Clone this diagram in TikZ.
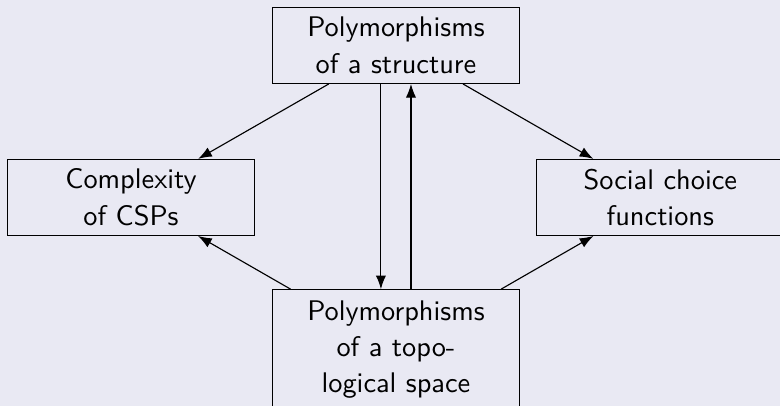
\documentclass[tikz,border=0pt]{standalone}
\usepackage{tikz}
\usetikzlibrary{arrows.meta,positioning}
\definecolor{bgcolor}{RGB}{233,233,243}

\begin{document}
\begin{tikzpicture}[node distance=2.5cm,>=Latex,
  box/.style={draw,align=center,font=\sffamily\fontsize{10}{12.8}\selectfont,minimum width=87pt,minimum height=26.8pt}]
\fill[bgcolor] (-139.6pt,16pt) rectangle (135.4pt,-127.1pt);
\useasboundingbox (-139.6pt,16pt) rectangle (135.4pt,-127.1pt);
\node[box] (top) {Polymorphisms\\of a structure};
\node[box,on grid,below left=53.6pt and 93.4pt of top] (csp) {Complexity\\of CSPs};
\node[box,on grid,below right=53.6pt and 93.2pt of top] (scf) {Social choice\\functions};
\node[box,on grid,below=107.3pt of top,minimum height=42.3pt] (topo) {Polymorphisms\\of a topo-\\logical space};

\draw[->] (top) -- (csp);
\draw[->] (top) -- (scf);
\draw[->] (topo) -- (csp);
\draw[->] (topo) -- (scf);
\draw[->] ([xshift=-5.3pt]top.south) -- ([xshift=-5.3pt]topo.north);
\draw[->] ([xshift=5.3pt]topo.north) -- ([xshift=5.3pt]top.south);
\end{tikzpicture}
\end{document}
